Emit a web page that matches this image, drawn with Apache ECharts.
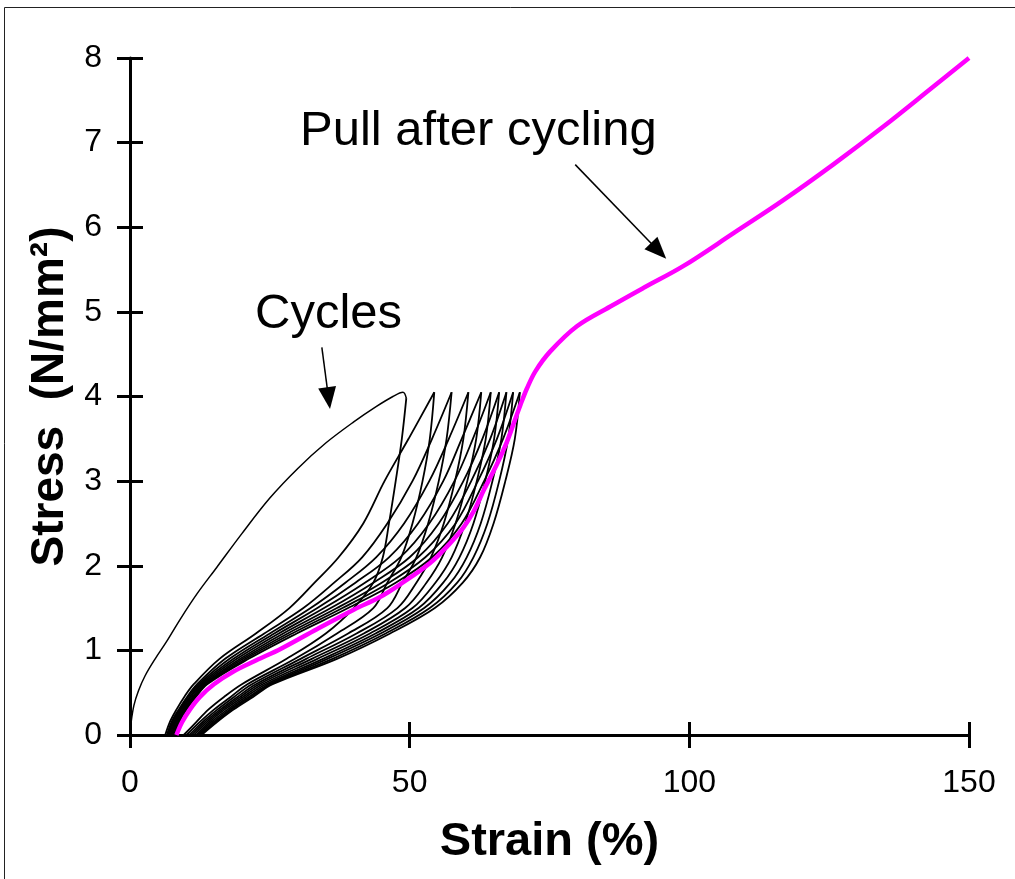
<!DOCTYPE html>
<html>
<head>
<meta charset="utf-8">
<title>Stress-strain cycling</title>
<script src="https://cdn.jsdelivr.net/npm/echarts@6/dist/echarts.min.js"></script>
<style>
  html, body { margin: 0; padding: 0; background: #fff; }
  #chart { width: 1015px; height: 879px; }
</style>
</head>
<body>
<div id="chart"></div>
<script>
// stress levels (N/mm2) that the cycle curves are read at
const stressLoad = [0, 0.15, 0.3, 0.45, 0.6, 0.9, 1.2, 1.5, 1.8, 2.1, 2.5, 3.0, 3.5, 4.05]
const stressUnload = [4.05, 3.5, 3.0, 2.5, 2.1, 1.8, 1.5, 1.2, 0.9, 0.6, 0.45, 0.3, 0.15, 0]

// first (virgin) loop, [strain %, stress]
const virginLoad = [[0, 0], [0.2, 0.15], [0.7, 0.35], [1.5, 0.52], [2.7, 0.7], [4.5, 0.9],
  [6.5, 1.1], [9, 1.37], [12, 1.67], [15.5, 1.98], [20, 2.38], [25, 2.8], [30, 3.15],
  [35, 3.45], [40, 3.7], [44, 3.88], [47, 4.0], [48.8, 4.05], [49.4, 3.98]]
const virginUnload = [[49.4, 3.98], [48.6, 3.5], [47.5, 3.0], [46.3, 2.5], [45.2, 2.1],
  [43.5, 1.8], [40, 1.5], [35, 1.2], [28, 0.9], [20, 0.6], [16.8, 0.45], [14, 0.3],
  [11.8, 0.15], [9.6, 0]]

// cycles 2..10, strain at each stressLoad level
const loadingStrain = [
  [6.3, 7.1, 8.3, 9.7, 11.4, 16.0, 22.5, 28.5, 33.0, 37.3, 41.7, 45.5, 49.8, 54.4],
  [6.6, 7.4, 8.7, 10.2, 12.0, 17.0, 24.0, 31.0, 36.5, 41.5, 46.0, 50.5, 54.0, 57.5],
  [6.8, 7.6, 8.9, 10.4, 12.3, 17.8, 25.0, 32.3, 38.5, 44.0, 49.0, 53.5, 57.0, 60.5],
  [7.0, 7.8, 9.1, 10.7, 12.6, 18.5, 25.8, 33.5, 40.3, 46.3, 51.5, 56.0, 59.3, 62.8],
  [7.2, 8.0, 9.3, 10.9, 12.9, 19.1, 26.6, 34.7, 42.0, 48.3, 53.5, 58.0, 61.3, 64.5],
  [7.4, 8.2, 9.5, 11.2, 13.2, 19.7, 27.4, 35.9, 43.5, 50.0, 55.2, 59.6, 63.0, 66.0],
  [7.6, 8.4, 9.7, 11.4, 13.4, 20.2, 28.2, 37.0, 45.0, 51.5, 56.8, 61.0, 64.4, 67.3],
  [7.8, 8.6, 9.9, 11.6, 13.6, 20.7, 29.0, 38.0, 46.3, 52.8, 58.2, 62.2, 65.6, 68.5],
  [8.0, 8.8, 10.1, 11.8, 13.8, 21.2, 29.8, 39.0, 47.5, 54.0, 59.3, 63.3, 66.7, 69.7]
]
// cycles 2..10, strain at each stressUnload level
const unloadingStrain = [
  [54.4, 53.6, 52.3, 50.5, 48.5, 46.0, 43.5, 37.0, 29.5, 21.0, 18.0, 15.0, 12.4, 10.1],
  [57.5, 56.6, 55.2, 53.3, 51.2, 48.7, 46.0, 39.0, 30.5, 21.8, 18.6, 15.6, 12.9, 10.6],
  [60.5, 59.6, 58.1, 56.1, 53.8, 51.2, 47.8, 40.5, 31.5, 22.5, 19.2, 16.1, 13.3, 11.0],
  [62.8, 61.9, 60.3, 58.2, 55.8, 53.0, 49.2, 41.8, 32.5, 23.1, 19.7, 16.5, 13.7, 11.4],
  [64.5, 63.6, 62.0, 59.9, 57.5, 54.6, 50.5, 42.9, 33.5, 23.7, 20.2, 16.9, 14.1, 11.8],
  [66.0, 65.1, 63.5, 61.4, 58.9, 56.0, 51.6, 43.9, 34.5, 24.3, 20.7, 17.4, 14.5, 12.1],
  [67.3, 66.4, 64.8, 62.7, 60.2, 57.3, 52.6, 44.8, 35.3, 24.8, 21.2, 17.8, 14.9, 12.4],
  [68.5, 67.6, 66.0, 63.9, 61.4, 58.5, 53.6, 45.7, 36.2, 25.2, 21.6, 18.1, 15.2, 12.6],
  [69.7, 68.8, 67.1, 65.0, 62.6, 59.5, 54.5, 46.5, 37.0, 25.5, 22.0, 18.5, 15.5, 12.8]
]

// pull after cycling, [strain %, stress]
const pullCurve = [[8.3, 0], [9.3, 0.15], [10.7, 0.3], [12.5, 0.45], [15, 0.6], [18.5, 0.75],
  [22.5, 0.88], [27, 1.02], [33.4, 1.25], [40, 1.48], [44.7, 1.63], [48.3, 1.78], [53.6, 2.03],
  [57, 2.25], [59.6, 2.45], [61.5, 2.65], [63.3, 2.9], [65.6, 3.2], [67.3, 3.45], [68.7, 3.7],
  [69.8, 3.9], [71, 4.1], [72.5, 4.3], [75.1, 4.53], [79.9, 4.83], [85.8, 5.06], [92, 5.29],
  [98.9, 5.54], [107.9, 5.93], [116.8, 6.32], [125.7, 6.74], [134.7, 7.19], [143.6, 7.66],
  [150, 8.0]]

// annotation arrows, [from, to] in data units
const cyclesArrow = [[34.3, 4.58], [35.5, 3.98]]
const pullArrow = [[79.6, 6.74], [94.5, 5.72]]

const font = "'Liberation Sans', Arial, sans-serif"

function blackLine(data, width) {
  return {
    type: 'line',
    data: data,
    smooth: 0.35,
    symbol: 'none',
    silent: true,
    lineStyle: { color: '#000', width: width },
    z: 2
  }
}

const series = []
series.push(blackLine(virginLoad, 1.5))
series.push(blackLine(virginUnload, 1.8))
for (let i = 0; i < loadingStrain.length; i++) {
  series.push(blackLine(loadingStrain[i].map((x, j) => [x, stressLoad[j]]), 1.8))
  series.push(blackLine(unloadingStrain[i].map((x, j) => [x, stressUnload[j]]), 1.8))
}
series.push({
  type: 'line',
  data: pullCurve,
  smooth: 0.35,
  symbol: 'none',
  silent: true,
  lineStyle: { color: '#FF00FF', width: 4.5 },
  z: 5,
  markLine: {
    silent: true,
    symbol: ['none', 'triangle'],
    symbolSize: [18, 22],
    label: { show: false },
    lineStyle: { color: '#000', width: 1.5, type: 'solid' },
    itemStyle: { color: '#000' },
    data: [
      [{ coord: cyclesArrow[0] }, { coord: cyclesArrow[1] }],
      [{ coord: pullArrow[0] }, { coord: pullArrow[1] }]
    ]
  }
})

const axisCommon = {
  type: 'value',
  splitLine: { show: false },
  axisLine: { onZero: false, lineStyle: { color: '#000', width: 3 } },
  axisTick: { length: 13, lineStyle: { color: '#000', width: 3 } }
}

const chart = echarts.init(document.getElementById('chart'))
chart.setOption({
  animation: false,
  backgroundColor: '#fff',
  grid: { left: 130, right: 46, top: 58, bottom: 144, containLabel: false },
  xAxis: [
    Object.assign({}, axisCommon, {
      min: 0, max: 150, interval: 50,
      position: 'bottom',
      axisLabel: { color: '#000', fontSize: 32, fontFamily: font, margin: 32 },
      name: 'Strain (%)',
      nameLocation: 'middle',
      nameGap: 84,
      nameTextStyle: { color: '#000', fontSize: 47, fontWeight: 'bold', fontFamily: font }
    }),
    // inner half of the crossing ticks
    Object.assign({}, axisCommon, {
      min: 0, max: 150, interval: 50,
      position: 'bottom',
      axisLine: { show: false },
      axisTick: { inside: true, length: 13, lineStyle: { color: '#000', width: 3 } },
      axisLabel: { show: false }
    })
  ],
  yAxis: [
    Object.assign({}, axisCommon, {
      min: 0, max: 8, interval: 1,
      position: 'left',
      axisLabel: { color: '#000', fontSize: 32, fontFamily: font, margin: 28 },
      name: 'Stress  (N/mm²)',
      nameLocation: 'middle',
      nameRotate: 90,
      nameGap: 56,
      nameTextStyle: { color: '#000', fontSize: 46, fontWeight: 'bold', fontFamily: font }
    }),
    Object.assign({}, axisCommon, {
      min: 0, max: 8, interval: 1,
      position: 'left',
      axisLine: { show: false },
      axisTick: { inside: true, length: 13, lineStyle: { color: '#000', width: 3 } },
      axisLabel: { show: false }
    })
  ],
  graphic: [
    {
      type: 'rect',
      shape: { x: 4.5, y: 7.5, width: 1040, height: 900 },
      style: { fill: 'none', stroke: '#222', lineWidth: 1 },
      silent: true
    },
    {
      type: 'text',
      x: 300, y: 131,
      style: { text: 'Pull after cycling', fontSize: 49, fontFamily: font, fill: '#000', verticalAlign: 'middle' }
    },
    {
      type: 'text',
      x: 255, y: 314,
      style: { text: 'Cycles', fontSize: 49, fontFamily: font, fill: '#000', verticalAlign: 'middle' }
    }
  ],
  series: series
})
</script>
</body>
</html>
